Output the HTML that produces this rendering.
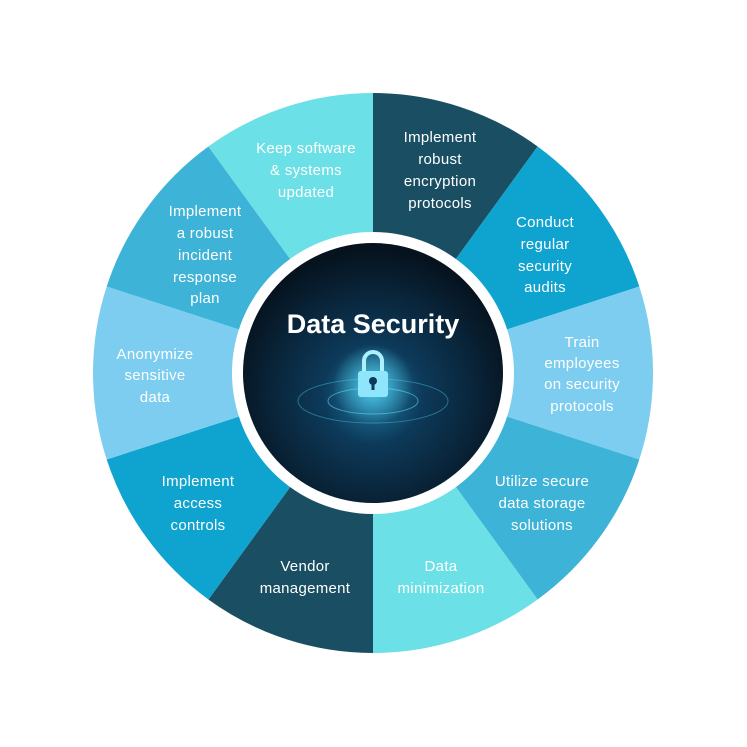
<!DOCTYPE html>
<html><head><meta charset="utf-8"><style>
html,body{margin:0;padding:0;background:#fff;}
svg{display:block;}
text{font-family:"Liberation Sans",sans-serif;fill:#fff;font-size:15px;text-anchor:middle;letter-spacing:0.3px;}
</style></head><body>
<svg width="747" height="747" viewBox="0 0 747 747" xmlns="http://www.w3.org/2000/svg">
<defs>
<radialGradient id="cg" cx="50%" cy="58%" r="55%">
<stop offset="0" stop-color="#1f7fa6"/>
<stop offset="0.35" stop-color="#0d3a5a"/>
<stop offset="1" stop-color="#06131f"/>
</radialGradient>
<radialGradient id="glow" cx="50%" cy="50%" r="50%">
<stop offset="0" stop-color="#5fe0ff" stop-opacity="0.8"/>
<stop offset="1" stop-color="#5fe0ff" stop-opacity="0"/>
</radialGradient>
</defs>
<g transform="translate(373,373)">
<path d="M0,0 L0,-280 A280,280 0 0 1 164.6,-226.5 Z" fill="#1a4f63"/>
<path d="M0,0 L164.6,-226.5 A280,280 0 0 1 266.3,-86.5 Z" fill="#0fa3cf"/>
<path d="M0,0 L266.3,-86.5 A280,280 0 0 1 266.3,86.5 Z" fill="#7ccdef"/>
<path d="M0,0 L266.3,86.5 A280,280 0 0 1 164.6,226.5 Z" fill="#3db3d7"/>
<path d="M0,0 L164.6,226.5 A280,280 0 0 1 0,280 Z" fill="#6be0e6"/>
<path d="M0,0 L0,280 A280,280 0 0 1 -164.6,226.5 Z" fill="#1a4f63"/>
<path d="M0,0 L-164.6,226.5 A280,280 0 0 1 -266.3,86.5 Z" fill="#0fa3cf"/>
<path d="M0,0 L-266.3,86.5 A280,280 0 0 1 -266.3,-86.5 Z" fill="#7ccdef"/>
<path d="M0,0 L-266.3,-86.5 A280,280 0 0 1 -164.6,-226.5 Z" fill="#3db3d7"/>
<path d="M0,0 L-164.6,-226.5 A280,280 0 0 1 0,-280 Z" fill="#6be0e6"/>
<circle r="141" fill="#fff"/>
<circle r="130" fill="url(#cg)"/>
<ellipse cx="0" cy="28" rx="75" ry="22" fill="none" stroke="#3fb8e0" stroke-opacity="0.5"/>
<ellipse cx="0" cy="28" rx="45" ry="13" fill="none" stroke="#5fd0f0" stroke-opacity="0.6"/>
<circle cx="0" cy="12" r="40" fill="url(#glow)"/>
<path d="M-9,-2 v-10 a9,9 0 0 1 18,0 v10" fill="none" stroke="#aef0ff" stroke-width="4"/>
<rect x="-15" y="-2" width="30" height="26" rx="3" fill="#8fe6fb"/>
<circle cx="0" cy="8" r="4" fill="#0d3a5a"/><rect x="-1.5" y="8" width="3" height="9" fill="#0d3a5a"/>
</g>
<text x="373" y="333" style="font-size:27px;font-weight:bold;letter-spacing:0">Data Security</text>
<text x="440" y="142">Implement</text><text x="440" y="164">robust</text><text x="440" y="186">encryption</text><text x="440" y="208">protocols</text>
<text x="545" y="227">Conduct</text><text x="545" y="249">regular</text><text x="545" y="271">security</text><text x="545" y="292">audits</text>
<text x="582" y="347">Train</text><text x="582" y="368">employees</text><text x="582" y="389">on security</text><text x="582" y="411">protocols</text>
<text x="542" y="486">Utilize secure</text><text x="542" y="508">data storage</text><text x="542" y="530">solutions</text>
<text x="441" y="571">Data</text><text x="441" y="593">minimization</text>
<text x="305" y="571">Vendor</text><text x="305" y="593">management</text>
<text x="198" y="486">Implement</text><text x="198" y="508">access</text><text x="198" y="530">controls</text>
<text x="155" y="359">Anonymize</text><text x="155" y="380">sensitive</text><text x="155" y="402">data</text>
<text x="205" y="216">Implement</text><text x="205" y="238">a robust</text><text x="205" y="260">incident</text><text x="205" y="282">response</text><text x="205" y="303">plan</text>
<text x="306" y="153">Keep software</text><text x="306" y="175">&amp; systems</text><text x="306" y="197">updated</text>
</svg>
</body></html>
